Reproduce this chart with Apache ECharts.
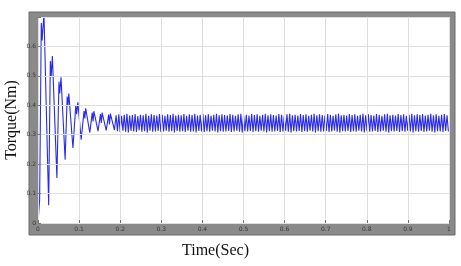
<!DOCTYPE html>
<html><head><meta charset="utf-8">
<script src="https://cdn.jsdelivr.net/npm/echarts@6/dist/echarts.min.js"></script>
<style>html,body{margin:0;padding:0;background:#fff}#c{width:461px;height:266px}</style>
</head><body><div id="c"></div>
<script>
// ---- data ----
var xTickLabels = ['0','0.1','0.2','0.3','0.4','0.5','0.6','0.7','0.8','0.9','1'];
var yTickLabels = ['0','0.1','0.2','0.3','0.4','0.5','0.6',''];
var xTitle = 'Time(Sec)';
var yTitle = 'Torque(Nm)';
// transient: peaks / troughs with ripple wiggles (time s, torque Nm)
var transientT = [0, 0.004, 0.008, 0.010, 0.0145, 0.026, 0.030, 0.032, 0.035, 0.046, 0.051, 0.053, 0.056, 0.066, 0.071, 0.073, 0.075, 0.085, 0.092, 0.094, 0.097, 0.105, 0.112, 0.114, 0.116, 0.126, 0.132, 0.134, 0.136, 0.146, 0.152, 0.154, 0.156, 0.166, 0.172, 0.174, 0.176, 0.186];
var transientV = [0, 0.08, 0.68, 0.62, 0.71, 0.06, 0.55, 0.50, 0.567, 0.153, 0.48, 0.44, 0.495, 0.215, 0.43, 0.40, 0.44, 0.255, 0.40, 0.37, 0.41, 0.283, 0.38, 0.355, 0.39, 0.307, 0.375, 0.345, 0.38, 0.312, 0.37, 0.34, 0.375, 0.315, 0.368, 0.335, 0.372, 0.316];
// steady-state ripple
var rippleStart = 0.19;
var ripplePeriod = 0.0066;
var steadyHigh = [0.366,0.369,0.364,0.368,0.371,0.365,0.367,0.370,0.363,0.368,
0.366,0.371,0.364,0.369,0.367,0.365,0.370,0.368,0.364,0.369,
0.367,0.371,0.365,0.368,0.366,0.370,0.364,0.369,0.367,0.371,
0.365,0.368,0.370,0.366,0.369,0.364,0.368,0.371,0.366,0.369,
0.367,0.365,0.370,0.368,0.364,0.369,0.371,0.366,0.368,0.365,
0.370,0.367,0.369,0.364,0.368,0.371,0.366,0.369,0.367,0.365,
0.370,0.368,0.364,0.369,0.371,0.366,0.368,0.365,0.370,0.367,
0.369,0.364,0.368,0.371,0.366,0.369,0.367,0.365,0.370,0.368,
0.364,0.369,0.371,0.366,0.368,0.365,0.370,0.367,0.369,0.364,
0.368,0.371,0.366,0.369,0.367,0.365,0.370,0.368,0.364,0.369,
0.371,0.366,0.368,0.365,0.370,0.367,0.369,0.364,0.368,0.371,
0.366,0.369,0.367,0.370,0.365,0.368,0.371,0.366,0.369,0.364,
0.368,0.370,0.366];
var steadyLow = [0.312,0.309,0.314,0.310,0.308,0.313,0.311,0.309,0.315,0.310,
0.312,0.308,0.314,0.310,0.311,0.313,0.309,0.311,0.314,0.310,
0.312,0.308,0.313,0.310,0.312,0.309,0.314,0.310,0.311,0.308,
0.313,0.311,0.309,0.312,0.310,0.314,0.311,0.308,0.312,0.310,
0.311,0.313,0.309,0.311,0.314,0.310,0.308,0.312,0.311,0.313,
0.309,0.312,0.310,0.314,0.311,0.308,0.312,0.310,0.311,0.313,
0.309,0.311,0.314,0.310,0.308,0.312,0.311,0.313,0.309,0.312,
0.310,0.314,0.311,0.308,0.312,0.310,0.311,0.313,0.309,0.311,
0.314,0.310,0.308,0.312,0.311,0.313,0.309,0.312,0.310,0.314,
0.311,0.308,0.312,0.310,0.311,0.313,0.309,0.311,0.314,0.310,
0.308,0.312,0.311,0.313,0.309,0.312,0.310,0.314,0.311,0.308,
0.312,0.310,0.313,0.309,0.311,0.314,0.310,0.308,0.312,0.311,
0.309,0.313,0.311];

// ---- build series data ----
var data = [];
for (var i = 0; i < transientT.length; i++) data.push([transientT[i], transientV[i]]);
for (var k = 0; k < steadyHigh.length; k++) {
  var t0 = rippleStart + k * ripplePeriod;
  if (t0 > 1) break;
  data.push([t0, steadyHigh[k]]);
  if (t0 + ripplePeriod / 2 <= 1) data.push([t0 + ripplePeriod / 2, steadyLow[k]]);
}

var chart = echarts.init(document.getElementById('c'), null, {renderer: 'canvas'});
var frameColor = '#8a8a8a';
var gridLine = {show: true, lineStyle: {color: '#dedede', width: 1}};
var serif = '"Liberation Serif", "DejaVu Serif", serif';
chart.setOption({
  animation: false,
  backgroundColor: '#fff',
  grid: {left: 38, right: 12, top: 17, bottom: 43, show: true, backgroundColor: '#fff', borderWidth: 0,
         containLabel: false, outerBoundsMode: 'none'},
  graphic: [
    {type: 'rect', shape: {x: 29, y: 12, width: 426, height: 5}, style: {fill: frameColor}, z: 100},
    {type: 'rect', shape: {x: 29, y: 17, width: 9, height: 206}, style: {fill: frameColor}, z: 100},
    {type: 'rect', shape: {x: 449, y: 17, width: 6, height: 206}, style: {fill: frameColor}, z: 100},
    {type: 'rect', shape: {x: 29, y: 223, width: 426, height: 12}, style: {fill: frameColor}, z: 100},
    {type: 'rect', shape: {x: 29, y: 12, width: 426, height: 223}, style: {fill: 'none', stroke: '#6a6a6a', lineWidth: 1}, z: 101},
    {type: 'text', left: 182, top: 243, z: 110,
     style: {text: xTitle, font: '16px ' + serif, fill: '#111'}},
    {type: 'text', x: 12, y: 120, rotation: Math.PI / 2, z: 110,
     style: {text: yTitle, font: '16px ' + serif, fill: '#111', textAlign: 'center', textVerticalAlign: 'middle'}}
  ],
  xAxis: [{
    type: 'value', min: 0, max: 1, interval: 0.1,
    axisLine: {show: false},
    axisTick: {show: true, inside: true, length: 3, lineStyle: {color: '#777'}},
    axisLabel: {show: true, margin: 3, formatter: function (v) { return xTickLabels[Math.round(v * 10)]; }, fontSize: 6, color: '#3a3a3a', fontFamily: 'DejaVu Sans'},
    splitLine: gridLine, z: 120
  }, {
    type: 'value', min: 0, max: 1, interval: 0.1, position: 'top',
    axisLine: {show: false}, axisLabel: {show: false}, splitLine: {show: false},
    axisTick: {show: true, inside: true, length: 3, lineStyle: {color: '#777'}}
  }],
  yAxis: [{
    type: 'value', min: 0, max: 0.7, interval: 0.1,
    axisLine: {show: false},
    axisTick: {show: true, inside: true, length: 3, lineStyle: {color: '#777'}},
    axisLabel: {show: true, margin: 2, formatter: function (v) { return yTickLabels[Math.round(v * 10)]; }, fontSize: 6, color: '#3a3a3a', fontFamily: 'DejaVu Sans'},
    splitLine: gridLine, z: 120
  }, {
    type: 'value', min: 0, max: 0.7, interval: 0.1, position: 'right',
    axisLine: {show: false}, axisLabel: {show: false}, splitLine: {show: false},
    axisTick: {show: true, inside: true, length: 3, lineStyle: {color: '#777'}}
  }],
  series: [{
    type: 'line', data: data, showSymbol: false, symbol: 'none',
    lineStyle: {color: '#2a2ae8', width: 1.1}, clip: true, z: 5
  }]
});
</script></body></html>
